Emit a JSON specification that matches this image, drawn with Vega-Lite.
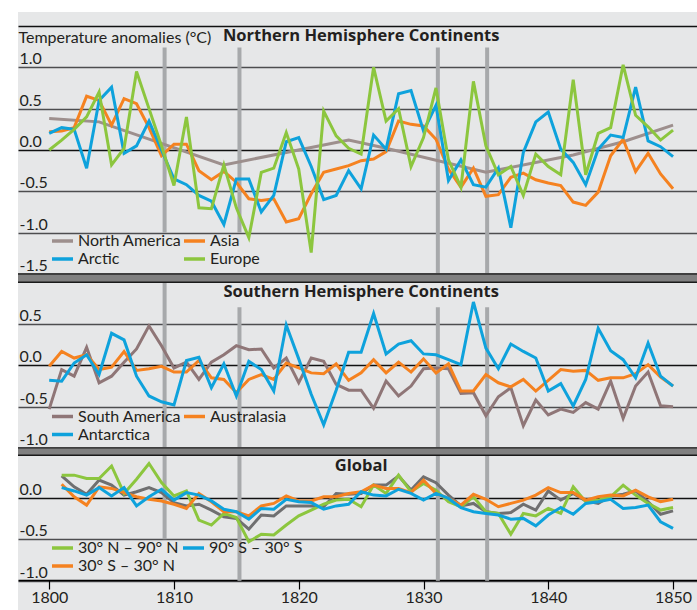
{
"$schema":"https://vega.github.io/schema/vega-lite/v6.json",
"autosize":{"type":"pad"},
"padding":{"left":17,"top":9,"right":0,"bottom":0},
"background":"#ffffff",
"spacing":0,
"bounds":"flush",
"config":{
 "view":{"stroke":null,"fill":"#e6e7e8"},
 "font":"Lato",
 "axis":{"labelFont":"Lato","titleFont":"Lato","labelColor":"#231f20","titleColor":"#231f20"},
 "legend":{"labelFont":"Lato"},
 "text":{"font":"Open Sans"}
},
"resolve":{"scale":{"color":"independent","x":"independent","y":"independent"},"legend":{"color":"independent"}},
"datasets":{
"eruptions":[{"year":1809.25},{"year":1815.25},{"year":1831.15},{"year":1835.1}],
"nh":[
{"series":"North America","year":1800,"anomaly":0.38},
{"series":"North America","year":1804,"anomaly":0.34},
{"series":"North America","year":1814,"anomaly":-0.18},
{"series":"North America","year":1824,"anomaly":0.12},
{"series":"North America","year":1827,"anomaly":0.02},
{"series":"North America","year":1835,"anomaly":-0.27},
{"series":"North America","year":1842,"anomaly":-0.06},
{"series":"North America","year":1846,"anomaly":0.1},
{"series":"North America","year":1850,"anomaly":0.3},
{"series":"Asia","year":1800,"anomaly":0.22},
{"series":"Asia","year":1801,"anomaly":0.23},
{"series":"Asia","year":1802,"anomaly":0.27},
{"series":"Asia","year":1803,"anomaly":0.65},
{"series":"Asia","year":1804,"anomaly":0.6},
{"series":"Asia","year":1805,"anomaly":0.3},
{"series":"Asia","year":1806,"anomaly":0.62},
{"series":"Asia","year":1807,"anomaly":0.56},
{"series":"Asia","year":1808,"anomaly":0.27},
{"series":"Asia","year":1809,"anomaly":-0.07},
{"series":"Asia","year":1810,"anomaly":0.07},
{"series":"Asia","year":1811,"anomaly":0.07},
{"series":"Asia","year":1812,"anomaly":-0.25},
{"series":"Asia","year":1813,"anomaly":-0.36},
{"series":"Asia","year":1814,"anomaly":-0.26},
{"series":"Asia","year":1815,"anomaly":-0.39},
{"series":"Asia","year":1816,"anomaly":-0.59},
{"series":"Asia","year":1817,"anomaly":-0.61},
{"series":"Asia","year":1818,"anomaly":-0.59},
{"series":"Asia","year":1819,"anomaly":-0.87},
{"series":"Asia","year":1820,"anomaly":-0.83},
{"series":"Asia","year":1821,"anomaly":-0.53},
{"series":"Asia","year":1822,"anomaly":-0.27},
{"series":"Asia","year":1823,"anomaly":-0.23},
{"series":"Asia","year":1824,"anomaly":-0.19},
{"series":"Asia","year":1825,"anomaly":-0.13},
{"series":"Asia","year":1826,"anomaly":-0.11},
{"series":"Asia","year":1827,"anomaly":-0.02},
{"series":"Asia","year":1828,"anomaly":0.35},
{"series":"Asia","year":1829,"anomaly":0.31},
{"series":"Asia","year":1830,"anomaly":0.29},
{"series":"Asia","year":1831,"anomaly":0.13},
{"series":"Asia","year":1832,"anomaly":-0.23},
{"series":"Asia","year":1833,"anomaly":-0.45},
{"series":"Asia","year":1834,"anomaly":-0.22},
{"series":"Asia","year":1835,"anomaly":-0.56},
{"series":"Asia","year":1836,"anomaly":-0.54},
{"series":"Asia","year":1837,"anomaly":-0.33},
{"series":"Asia","year":1838,"anomaly":-0.28},
{"series":"Asia","year":1839,"anomaly":-0.36},
{"series":"Asia","year":1840,"anomaly":-0.4},
{"series":"Asia","year":1841,"anomaly":-0.43},
{"series":"Asia","year":1842,"anomaly":-0.63},
{"series":"Asia","year":1843,"anomaly":-0.67},
{"series":"Asia","year":1844,"anomaly":-0.51},
{"series":"Asia","year":1845,"anomaly":-0.07},
{"series":"Asia","year":1846,"anomaly":0.13},
{"series":"Asia","year":1847,"anomaly":-0.26},
{"series":"Asia","year":1848,"anomaly":-0.04},
{"series":"Asia","year":1849,"anomaly":-0.29},
{"series":"Asia","year":1850,"anomaly":-0.47},
{"series":"Arctic","year":1800,"anomaly":0.2},
{"series":"Arctic","year":1801,"anomaly":0.27},
{"series":"Arctic","year":1802,"anomaly":0.25},
{"series":"Arctic","year":1803,"anomaly":-0.22},
{"series":"Arctic","year":1804,"anomaly":0.6},
{"series":"Arctic","year":1805,"anomaly":0.76},
{"series":"Arctic","year":1806,"anomaly":-0.04},
{"series":"Arctic","year":1807,"anomaly":0.05},
{"series":"Arctic","year":1808,"anomaly":0.35},
{"series":"Arctic","year":1809,"anomaly":0.0},
{"series":"Arctic","year":1810,"anomaly":-0.35},
{"series":"Arctic","year":1811,"anomaly":-0.42},
{"series":"Arctic","year":1812,"anomaly":-0.55},
{"series":"Arctic","year":1813,"anomaly":-0.62},
{"series":"Arctic","year":1814,"anomaly":-0.9},
{"series":"Arctic","year":1815,"anomaly":-0.35},
{"series":"Arctic","year":1816,"anomaly":-0.35},
{"series":"Arctic","year":1817,"anomaly":-0.75},
{"series":"Arctic","year":1818,"anomaly":-0.55},
{"series":"Arctic","year":1819,"anomaly":0.1},
{"series":"Arctic","year":1820,"anomaly":0.15},
{"series":"Arctic","year":1821,"anomaly":-0.2},
{"series":"Arctic","year":1822,"anomaly":-0.6},
{"series":"Arctic","year":1823,"anomaly":-0.55},
{"series":"Arctic","year":1824,"anomaly":-0.25},
{"series":"Arctic","year":1825,"anomaly":-0.47},
{"series":"Arctic","year":1826,"anomaly":0.18},
{"series":"Arctic","year":1827,"anomaly":0.01},
{"series":"Arctic","year":1828,"anomaly":0.68},
{"series":"Arctic","year":1829,"anomaly":0.72},
{"series":"Arctic","year":1830,"anomaly":0.23},
{"series":"Arctic","year":1831,"anomaly":0.54},
{"series":"Arctic","year":1832,"anomaly":-0.37},
{"series":"Arctic","year":1833,"anomaly":-0.12},
{"series":"Arctic","year":1834,"anomaly":-0.42},
{"series":"Arctic","year":1835,"anomaly":-0.45},
{"series":"Arctic","year":1836,"anomaly":-0.22},
{"series":"Arctic","year":1837,"anomaly":-0.94},
{"series":"Arctic","year":1838,"anomaly":-0.03},
{"series":"Arctic","year":1839,"anomaly":0.34},
{"series":"Arctic","year":1840,"anomaly":0.46},
{"series":"Arctic","year":1841,"anomaly":0.01},
{"series":"Arctic","year":1842,"anomaly":-0.15},
{"series":"Arctic","year":1843,"anomaly":-0.42},
{"series":"Arctic","year":1844,"anomaly":0.01},
{"series":"Arctic","year":1845,"anomaly":0.18},
{"series":"Arctic","year":1846,"anomaly":0.15},
{"series":"Arctic","year":1847,"anomaly":0.76},
{"series":"Arctic","year":1848,"anomaly":0.11},
{"series":"Arctic","year":1849,"anomaly":0.04},
{"series":"Arctic","year":1850,"anomaly":-0.08},
{"series":"Europe","year":1800,"anomaly":0.0},
{"series":"Europe","year":1801,"anomaly":0.12},
{"series":"Europe","year":1802,"anomaly":0.25},
{"series":"Europe","year":1803,"anomaly":0.4},
{"series":"Europe","year":1804,"anomaly":0.7},
{"series":"Europe","year":1805,"anomaly":-0.18},
{"series":"Europe","year":1806,"anomaly":0.02},
{"series":"Europe","year":1807,"anomaly":0.95},
{"series":"Europe","year":1808,"anomaly":0.5},
{"series":"Europe","year":1809,"anomaly":0.05},
{"series":"Europe","year":1810,"anomaly":-0.43},
{"series":"Europe","year":1811,"anomaly":0.4},
{"series":"Europe","year":1812,"anomaly":-0.7},
{"series":"Europe","year":1813,"anomaly":-0.71},
{"series":"Europe","year":1814,"anomaly":-0.18},
{"series":"Europe","year":1815,"anomaly":-0.7},
{"series":"Europe","year":1816,"anomaly":-1.06},
{"series":"Europe","year":1817,"anomaly":-0.27},
{"series":"Europe","year":1818,"anomaly":-0.22},
{"series":"Europe","year":1819,"anomaly":0.21},
{"series":"Europe","year":1820,"anomaly":-0.23},
{"series":"Europe","year":1821,"anomaly":-1.24},
{"series":"Europe","year":1822,"anomaly":0.47},
{"series":"Europe","year":1823,"anomaly":0.17},
{"series":"Europe","year":1824,"anomaly":0.02},
{"series":"Europe","year":1825,"anomaly":-0.05},
{"series":"Europe","year":1826,"anomaly":1.0},
{"series":"Europe","year":1827,"anomaly":0.35},
{"series":"Europe","year":1828,"anomaly":0.5},
{"series":"Europe","year":1829,"anomaly":-0.2},
{"series":"Europe","year":1830,"anomaly":0.15},
{"series":"Europe","year":1831,"anomaly":0.75},
{"series":"Europe","year":1832,"anomaly":-0.12},
{"series":"Europe","year":1833,"anomaly":-0.45},
{"series":"Europe","year":1834,"anomaly":0.83},
{"series":"Europe","year":1835,"anomaly":0.05},
{"series":"Europe","year":1836,"anomaly":-0.3},
{"series":"Europe","year":1837,"anomaly":-0.2},
{"series":"Europe","year":1838,"anomaly":-0.55},
{"series":"Europe","year":1839,"anomaly":-0.05},
{"series":"Europe","year":1840,"anomaly":-0.2},
{"series":"Europe","year":1841,"anomaly":-0.3},
{"series":"Europe","year":1842,"anomaly":0.85},
{"series":"Europe","year":1843,"anomaly":-0.3},
{"series":"Europe","year":1844,"anomaly":0.2},
{"series":"Europe","year":1845,"anomaly":0.27},
{"series":"Europe","year":1846,"anomaly":1.03},
{"series":"Europe","year":1847,"anomaly":0.42},
{"series":"Europe","year":1848,"anomaly":0.28},
{"series":"Europe","year":1849,"anomaly":0.12},
{"series":"Europe","year":1850,"anomaly":0.24}
],
"sh":[
{"series":"South America","year":1800,"anomaly":-0.53},
{"series":"South America","year":1801,"anomaly":-0.05},
{"series":"South America","year":1802,"anomaly":-0.13},
{"series":"South America","year":1803,"anomaly":0.22},
{"series":"South America","year":1804,"anomaly":-0.21},
{"series":"South America","year":1805,"anomaly":-0.13},
{"series":"South America","year":1806,"anomaly":0.04},
{"series":"South America","year":1807,"anomaly":0.2},
{"series":"South America","year":1808,"anomaly":0.48},
{"series":"South America","year":1809,"anomaly":0.24},
{"series":"South America","year":1810,"anomaly":-0.03},
{"series":"South America","year":1811,"anomaly":0.04},
{"series":"South America","year":1812,"anomaly":-0.17},
{"series":"South America","year":1813,"anomaly":0.04},
{"series":"South America","year":1814,"anomaly":0.13},
{"series":"South America","year":1815,"anomaly":0.24},
{"series":"South America","year":1816,"anomaly":0.19},
{"series":"South America","year":1817,"anomaly":0.2},
{"series":"South America","year":1818,"anomaly":-0.03},
{"series":"South America","year":1819,"anomaly":0.09},
{"series":"South America","year":1820,"anomaly":-0.21},
{"series":"South America","year":1821,"anomaly":0.09},
{"series":"South America","year":1822,"anomaly":0.05},
{"series":"South America","year":1823,"anomaly":-0.23},
{"series":"South America","year":1824,"anomaly":-0.3},
{"series":"South America","year":1825,"anomaly":-0.3},
{"series":"South America","year":1826,"anomaly":-0.52},
{"series":"South America","year":1827,"anomaly":-0.19},
{"series":"South America","year":1828,"anomaly":-0.37},
{"series":"South America","year":1829,"anomaly":-0.25},
{"series":"South America","year":1830,"anomaly":-0.04},
{"series":"South America","year":1831,"anomaly":-0.03},
{"series":"South America","year":1832,"anomaly":-0.04},
{"series":"South America","year":1833,"anomaly":-0.34},
{"series":"South America","year":1834,"anomaly":-0.33},
{"series":"South America","year":1835,"anomaly":-0.61},
{"series":"South America","year":1836,"anomaly":-0.38},
{"series":"South America","year":1837,"anomaly":-0.27},
{"series":"South America","year":1838,"anomaly":-0.73},
{"series":"South America","year":1839,"anomaly":-0.42},
{"series":"South America","year":1840,"anomaly":-0.6},
{"series":"South America","year":1841,"anomaly":-0.53},
{"series":"South America","year":1842,"anomaly":-0.57},
{"series":"South America","year":1843,"anomaly":-0.45},
{"series":"South America","year":1844,"anomaly":-0.53},
{"series":"South America","year":1845,"anomaly":-0.19},
{"series":"South America","year":1846,"anomaly":-0.64},
{"series":"South America","year":1847,"anomaly":-0.25},
{"series":"South America","year":1848,"anomaly":-0.08},
{"series":"South America","year":1849,"anomaly":-0.49},
{"series":"South America","year":1850,"anomaly":-0.5},
{"series":"Australasia","year":1800,"anomaly":-0.01},
{"series":"Australasia","year":1801,"anomaly":0.17},
{"series":"Australasia","year":1802,"anomaly":0.09},
{"series":"Australasia","year":1803,"anomaly":0.13},
{"series":"Australasia","year":1804,"anomaly":-0.05},
{"series":"Australasia","year":1805,"anomaly":-0.02},
{"series":"Australasia","year":1806,"anomaly":0.17},
{"series":"Australasia","year":1807,"anomaly":-0.06},
{"series":"Australasia","year":1808,"anomaly":-0.04},
{"series":"Australasia","year":1809,"anomaly":-0.01},
{"series":"Australasia","year":1810,"anomaly":-0.08},
{"series":"Australasia","year":1811,"anomaly":-0.08},
{"series":"Australasia","year":1812,"anomaly":0.06},
{"series":"Australasia","year":1813,"anomaly":-0.15},
{"series":"Australasia","year":1814,"anomaly":-0.17},
{"series":"Australasia","year":1815,"anomaly":-0.33},
{"series":"Australasia","year":1816,"anomaly":-0.17},
{"series":"Australasia","year":1817,"anomaly":-0.11},
{"series":"Australasia","year":1818,"anomaly":-0.17},
{"series":"Australasia","year":1819,"anomaly":0.03},
{"series":"Australasia","year":1820,"anomaly":-0.03},
{"series":"Australasia","year":1821,"anomaly":-0.09},
{"series":"Australasia","year":1822,"anomaly":-0.1},
{"series":"Australasia","year":1823,"anomaly":0.02},
{"series":"Australasia","year":1824,"anomaly":-0.18},
{"series":"Australasia","year":1825,"anomaly":-0.09},
{"series":"Australasia","year":1826,"anomaly":0.07},
{"series":"Australasia","year":1827,"anomaly":-0.09},
{"series":"Australasia","year":1828,"anomaly":0.04},
{"series":"Australasia","year":1829,"anomaly":-0.08},
{"series":"Australasia","year":1830,"anomaly":0.08},
{"series":"Australasia","year":1831,"anomaly":-0.09},
{"series":"Australasia","year":1832,"anomaly":0.02},
{"series":"Australasia","year":1833,"anomaly":-0.31},
{"series":"Australasia","year":1834,"anomaly":-0.31},
{"series":"Australasia","year":1835,"anomaly":-0.11},
{"series":"Australasia","year":1836,"anomaly":-0.21},
{"series":"Australasia","year":1837,"anomaly":-0.26},
{"series":"Australasia","year":1838,"anomaly":-0.17},
{"series":"Australasia","year":1839,"anomaly":-0.31},
{"series":"Australasia","year":1840,"anomaly":-0.18},
{"series":"Australasia","year":1841,"anomaly":-0.05},
{"series":"Australasia","year":1842,"anomaly":-0.07},
{"series":"Australasia","year":1843,"anomaly":-0.06},
{"series":"Australasia","year":1844,"anomaly":-0.18},
{"series":"Australasia","year":1845,"anomaly":-0.15},
{"series":"Australasia","year":1846,"anomaly":-0.15},
{"series":"Australasia","year":1847,"anomaly":-0.1},
{"series":"Australasia","year":1848,"anomaly":0.01},
{"series":"Australasia","year":1849,"anomaly":-0.14},
{"series":"Australasia","year":1850,"anomaly":-0.25},
{"series":"Antarctica","year":1800,"anomaly":-0.18},
{"series":"Antarctica","year":1801,"anomaly":-0.19},
{"series":"Antarctica","year":1802,"anomaly":0.03},
{"series":"Antarctica","year":1803,"anomaly":0.13},
{"series":"Antarctica","year":1804,"anomaly":-0.11},
{"series":"Antarctica","year":1805,"anomaly":0.39},
{"series":"Antarctica","year":1806,"anomaly":0.31},
{"series":"Antarctica","year":1807,"anomaly":-0.13},
{"series":"Antarctica","year":1808,"anomaly":-0.37},
{"series":"Antarctica","year":1809,"anomaly":-0.44},
{"series":"Antarctica","year":1810,"anomaly":-0.48},
{"series":"Antarctica","year":1811,"anomaly":0.06},
{"series":"Antarctica","year":1812,"anomaly":0.1},
{"series":"Antarctica","year":1813,"anomaly":-0.27},
{"series":"Antarctica","year":1814,"anomaly":0.02},
{"series":"Antarctica","year":1815,"anomaly":-0.37},
{"series":"Antarctica","year":1816,"anomaly":0.05},
{"series":"Antarctica","year":1817,"anomaly":-0.05},
{"series":"Antarctica","year":1818,"anomaly":-0.31},
{"series":"Antarctica","year":1819,"anomaly":0.49},
{"series":"Antarctica","year":1820,"anomaly":0.08},
{"series":"Antarctica","year":1821,"anomaly":-0.35},
{"series":"Antarctica","year":1822,"anomaly":-0.72},
{"series":"Antarctica","year":1823,"anomaly":-0.3},
{"series":"Antarctica","year":1824,"anomaly":0.16},
{"series":"Antarctica","year":1825,"anomaly":0.16},
{"series":"Antarctica","year":1826,"anomaly":0.63},
{"series":"Antarctica","year":1827,"anomaly":0.14},
{"series":"Antarctica","year":1828,"anomaly":0.26},
{"series":"Antarctica","year":1829,"anomaly":0.3},
{"series":"Antarctica","year":1830,"anomaly":0.14},
{"series":"Antarctica","year":1831,"anomaly":0.13},
{"series":"Antarctica","year":1832,"anomaly":0.07},
{"series":"Antarctica","year":1833,"anomaly":0.01},
{"series":"Antarctica","year":1834,"anomaly":0.77},
{"series":"Antarctica","year":1835,"anomaly":0.21},
{"series":"Antarctica","year":1836,"anomaly":-0.04},
{"series":"Antarctica","year":1837,"anomaly":0.26},
{"series":"Antarctica","year":1838,"anomaly":0.17},
{"series":"Antarctica","year":1839,"anomaly":0.09},
{"series":"Antarctica","year":1840,"anomaly":-0.31},
{"series":"Antarctica","year":1841,"anomaly":-0.22},
{"series":"Antarctica","year":1842,"anomaly":-0.49},
{"series":"Antarctica","year":1843,"anomaly":-0.17},
{"series":"Antarctica","year":1844,"anomaly":0.45},
{"series":"Antarctica","year":1845,"anomaly":0.18},
{"series":"Antarctica","year":1846,"anomaly":0.07},
{"series":"Antarctica","year":1847,"anomaly":-0.15},
{"series":"Antarctica","year":1848,"anomaly":0.27},
{"series":"Antarctica","year":1849,"anomaly":-0.13},
{"series":"Antarctica","year":1850,"anomaly":-0.25}
],
"gl":[
{"series":"Global","year":1801,"anomaly":0.26},
{"series":"Global","year":1802,"anomaly":0.13},
{"series":"Global","year":1803,"anomaly":0.04},
{"series":"Global","year":1804,"anomaly":0.21},
{"series":"Global","year":1805,"anomaly":0.15},
{"series":"Global","year":1806,"anomaly":0.03},
{"series":"Global","year":1807,"anomaly":0.07},
{"series":"Global","year":1808,"anomaly":0.12},
{"series":"Global","year":1809,"anomaly":0.06},
{"series":"Global","year":1810,"anomaly":-0.06},
{"series":"Global","year":1811,"anomaly":-0.1},
{"series":"Global","year":1812,"anomaly":-0.08},
{"series":"Global","year":1813,"anomaly":-0.15},
{"series":"Global","year":1814,"anomaly":-0.23},
{"series":"Global","year":1815,"anomaly":-0.25},
{"series":"Global","year":1816,"anomaly":-0.38},
{"series":"Global","year":1817,"anomaly":-0.21},
{"series":"Global","year":1818,"anomaly":-0.22},
{"series":"Global","year":1819,"anomaly":-0.1},
{"series":"Global","year":1820,"anomaly":-0.1},
{"series":"Global","year":1821,"anomaly":-0.1},
{"series":"Global","year":1822,"anomaly":-0.11},
{"series":"Global","year":1823,"anomaly":0.05},
{"series":"Global","year":1824,"anomaly":0.04},
{"series":"Global","year":1825,"anomaly":0.05},
{"series":"Global","year":1826,"anomaly":0.15},
{"series":"Global","year":1827,"anomaly":0.15},
{"series":"Global","year":1828,"anomaly":0.26},
{"series":"Global","year":1829,"anomaly":0.09},
{"series":"Global","year":1830,"anomaly":0.25},
{"series":"Global","year":1831,"anomaly":0.18},
{"series":"Global","year":1832,"anomaly":0.03},
{"series":"Global","year":1833,"anomaly":-0.1},
{"series":"Global","year":1834,"anomaly":-0.07},
{"series":"Global","year":1835,"anomaly":-0.17},
{"series":"Global","year":1836,"anomaly":-0.19},
{"series":"Global","year":1837,"anomaly":-0.18},
{"series":"Global","year":1838,"anomaly":-0.08},
{"series":"Global","year":1839,"anomaly":-0.15},
{"series":"Global","year":1840,"anomaly":0.08},
{"series":"Global","year":1841,"anomaly":-0.03},
{"series":"Global","year":1842,"anomaly":0.05},
{"series":"Global","year":1843,"anomaly":-0.04},
{"series":"Global","year":1844,"anomaly":-0.07},
{"series":"Global","year":1845,"anomaly":0.02},
{"series":"Global","year":1846,"anomaly":0.04},
{"series":"Global","year":1847,"anomaly":0.08},
{"series":"Global","year":1848,"anomaly":-0.05},
{"series":"Global","year":1849,"anomaly":-0.2},
{"series":"Global","year":1850,"anomaly":-0.16},
{"series":"30° N – 90° N","year":1801,"anomaly":0.27},
{"series":"30° N – 90° N","year":1802,"anomaly":0.27},
{"series":"30° N – 90° N","year":1803,"anomaly":0.23},
{"series":"30° N – 90° N","year":1804,"anomaly":0.23},
{"series":"30° N – 90° N","year":1805,"anomaly":0.38},
{"series":"30° N – 90° N","year":1806,"anomaly":0.05},
{"series":"30° N – 90° N","year":1807,"anomaly":0.22},
{"series":"30° N – 90° N","year":1808,"anomaly":0.41},
{"series":"30° N – 90° N","year":1809,"anomaly":0.18},
{"series":"30° N – 90° N","year":1810,"anomaly":0.02},
{"series":"30° N – 90° N","year":1811,"anomaly":0.08},
{"series":"30° N – 90° N","year":1812,"anomaly":-0.27},
{"series":"30° N – 90° N","year":1813,"anomaly":-0.33},
{"series":"30° N – 90° N","year":1814,"anomaly":-0.19},
{"series":"30° N – 90° N","year":1815,"anomaly":-0.24},
{"series":"30° N – 90° N","year":1816,"anomaly":-0.53},
{"series":"30° N – 90° N","year":1817,"anomaly":-0.44},
{"series":"30° N – 90° N","year":1818,"anomaly":-0.45},
{"series":"30° N – 90° N","year":1819,"anomaly":-0.33},
{"series":"30° N – 90° N","year":1820,"anomaly":-0.22},
{"series":"30° N – 90° N","year":1821,"anomaly":-0.15},
{"series":"30° N – 90° N","year":1822,"anomaly":-0.08},
{"series":"30° N – 90° N","year":1823,"anomaly":-0.03},
{"series":"30° N – 90° N","year":1824,"anomaly":-0.02},
{"series":"30° N – 90° N","year":1825,"anomaly":-0.11},
{"series":"30° N – 90° N","year":1826,"anomaly":0.15},
{"series":"30° N – 90° N","year":1827,"anomaly":0.05},
{"series":"30° N – 90° N","year":1828,"anomaly":0.27},
{"series":"30° N – 90° N","year":1829,"anomaly":0.07},
{"series":"30° N – 90° N","year":1830,"anomaly":0.17},
{"series":"30° N – 90° N","year":1831,"anomaly":0.09},
{"series":"30° N – 90° N","year":1832,"anomaly":-0.05},
{"series":"30° N – 90° N","year":1833,"anomaly":-0.11},
{"series":"30° N – 90° N","year":1834,"anomaly":0.01},
{"series":"30° N – 90° N","year":1835,"anomaly":-0.17},
{"series":"30° N – 90° N","year":1836,"anomaly":-0.19},
{"series":"30° N – 90° N","year":1837,"anomaly":-0.44},
{"series":"30° N – 90° N","year":1838,"anomaly":-0.19},
{"series":"30° N – 90° N","year":1839,"anomaly":-0.22},
{"series":"30° N – 90° N","year":1840,"anomaly":-0.13},
{"series":"30° N – 90° N","year":1841,"anomaly":-0.19},
{"series":"30° N – 90° N","year":1842,"anomaly":0.13},
{"series":"30° N – 90° N","year":1843,"anomaly":-0.05},
{"series":"30° N – 90° N","year":1844,"anomaly":-0.03},
{"series":"30° N – 90° N","year":1845,"anomaly":0.01},
{"series":"30° N – 90° N","year":1846,"anomaly":0.15},
{"series":"30° N – 90° N","year":1847,"anomaly":0.03},
{"series":"30° N – 90° N","year":1848,"anomaly":-0.07},
{"series":"30° N – 90° N","year":1849,"anomaly":-0.15},
{"series":"30° N – 90° N","year":1850,"anomaly":-0.12},
{"series":"30° S – 30° N","year":1801,"anomaly":0.16},
{"series":"30° S – 30° N","year":1802,"anomaly":0.01},
{"series":"30° S – 30° N","year":1803,"anomaly":-0.09},
{"series":"30° S – 30° N","year":1804,"anomaly":0.13},
{"series":"30° S – 30° N","year":1805,"anomaly":0.11},
{"series":"30° S – 30° N","year":1806,"anomaly":0.06},
{"series":"30° S – 30° N","year":1807,"anomaly":0.01},
{"series":"30° S – 30° N","year":1808,"anomaly":-0.02},
{"series":"30° S – 30° N","year":1809,"anomaly":-0.04},
{"series":"30° S – 30° N","year":1810,"anomaly":-0.08},
{"series":"30° S – 30° N","year":1811,"anomaly":-0.13},
{"series":"30° S – 30° N","year":1812,"anomaly":0.05},
{"series":"30° S – 30° N","year":1813,"anomaly":-0.05},
{"series":"30° S – 30° N","year":1814,"anomaly":-0.17},
{"series":"30° S – 30° N","year":1815,"anomaly":-0.17},
{"series":"30° S – 30° N","year":1816,"anomaly":-0.22},
{"series":"30° S – 30° N","year":1817,"anomaly":-0.1},
{"series":"30° S – 30° N","year":1818,"anomaly":-0.07},
{"series":"30° S – 30° N","year":1819,"anomaly":0.02},
{"series":"30° S – 30° N","year":1820,"anomaly":-0.04},
{"series":"30° S – 30° N","year":1821,"anomaly":-0.04},
{"series":"30° S – 30° N","year":1822,"anomaly":0.01},
{"series":"30° S – 30° N","year":1823,"anomaly":0.01},
{"series":"30° S – 30° N","year":1824,"anomaly":0.05},
{"series":"30° S – 30° N","year":1825,"anomaly":0.07},
{"series":"30° S – 30° N","year":1826,"anomaly":0.15},
{"series":"30° S – 30° N","year":1827,"anomaly":0.11},
{"series":"30° S – 30° N","year":1828,"anomaly":0.11},
{"series":"30° S – 30° N","year":1829,"anomaly":0.06},
{"series":"30° S – 30° N","year":1830,"anomaly":0.21},
{"series":"30° S – 30° N","year":1831,"anomaly":0.05},
{"series":"30° S – 30° N","year":1832,"anomaly":-0.01},
{"series":"30° S – 30° N","year":1833,"anomaly":-0.09},
{"series":"30° S – 30° N","year":1834,"anomaly":0.04},
{"series":"30° S – 30° N","year":1835,"anomaly":-0.02},
{"series":"30° S – 30° N","year":1836,"anomaly":-0.11},
{"series":"30° S – 30° N","year":1837,"anomaly":-0.07},
{"series":"30° S – 30° N","year":1838,"anomaly":-0.03},
{"series":"30° S – 30° N","year":1839,"anomaly":0.03},
{"series":"30° S – 30° N","year":1840,"anomaly":0.12},
{"series":"30° S – 30° N","year":1841,"anomaly":0.06},
{"series":"30° S – 30° N","year":1842,"anomaly":0.06},
{"series":"30° S – 30° N","year":1843,"anomaly":-0.03},
{"series":"30° S – 30° N","year":1844,"anomaly":0.01},
{"series":"30° S – 30° N","year":1845,"anomaly":0.03},
{"series":"30° S – 30° N","year":1846,"anomaly":0.02},
{"series":"30° S – 30° N","year":1847,"anomaly":0.09},
{"series":"30° S – 30° N","year":1848,"anomaly":0.01},
{"series":"30° S – 30° N","year":1849,"anomaly":-0.05},
{"series":"30° S – 30° N","year":1850,"anomaly":-0.02},
{"series":"90° S – 30° S","year":1801,"anomaly":0.12},
{"series":"90° S – 30° S","year":1802,"anomaly":0.08},
{"series":"90° S – 30° S","year":1803,"anomaly":0.03},
{"series":"90° S – 30° S","year":1804,"anomaly":0.12},
{"series":"90° S – 30° S","year":1805,"anomaly":0.02},
{"series":"90° S – 30° S","year":1806,"anomaly":0.12},
{"series":"90° S – 30° S","year":1807,"anomaly":-0.1},
{"series":"90° S – 30° S","year":1808,"anomaly":0.01},
{"series":"90° S – 30° S","year":1809,"anomaly":0.1},
{"series":"90° S – 30° S","year":1810,"anomaly":-0.03},
{"series":"90° S – 30° S","year":1811,"anomaly":0.06},
{"series":"90° S – 30° S","year":1812,"anomaly":0.03},
{"series":"90° S – 30° S","year":1813,"anomaly":-0.04},
{"series":"90° S – 30° S","year":1814,"anomaly":-0.14},
{"series":"90° S – 30° S","year":1815,"anomaly":-0.17},
{"series":"90° S – 30° S","year":1816,"anomaly":-0.26},
{"series":"90° S – 30° S","year":1817,"anomaly":-0.13},
{"series":"90° S – 30° S","year":1818,"anomaly":-0.14},
{"series":"90° S – 30° S","year":1819,"anomaly":-0.02},
{"series":"90° S – 30° S","year":1820,"anomaly":-0.05},
{"series":"90° S – 30° S","year":1821,"anomaly":-0.06},
{"series":"90° S – 30° S","year":1822,"anomaly":-0.14},
{"series":"90° S – 30° S","year":1823,"anomaly":-0.1},
{"series":"90° S – 30° S","year":1824,"anomaly":-0.08},
{"series":"90° S – 30° S","year":1825,"anomaly":0.07},
{"series":"90° S – 30° S","year":1826,"anomaly":0.03},
{"series":"90° S – 30° S","year":1827,"anomaly":0.02},
{"series":"90° S – 30° S","year":1828,"anomaly":0.1},
{"series":"90° S – 30° S","year":1829,"anomaly":0.05},
{"series":"90° S – 30° S","year":1830,"anomaly":-0.03},
{"series":"90° S – 30° S","year":1831,"anomaly":0.05},
{"series":"90° S – 30° S","year":1832,"anomaly":-0.01},
{"series":"90° S – 30° S","year":1833,"anomaly":-0.12},
{"series":"90° S – 30° S","year":1834,"anomaly":-0.17},
{"series":"90° S – 30° S","year":1835,"anomaly":-0.19},
{"series":"90° S – 30° S","year":1836,"anomaly":-0.21},
{"series":"90° S – 30° S","year":1837,"anomaly":-0.26},
{"series":"90° S – 30° S","year":1838,"anomaly":-0.25},
{"series":"90° S – 30° S","year":1839,"anomaly":-0.34},
{"series":"90° S – 30° S","year":1840,"anomaly":-0.21},
{"series":"90° S – 30° S","year":1841,"anomaly":-0.12},
{"series":"90° S – 30° S","year":1842,"anomaly":-0.2},
{"series":"90° S – 30° S","year":1843,"anomaly":-0.07},
{"series":"90° S – 30° S","year":1844,"anomaly":-0.05},
{"series":"90° S – 30° S","year":1845,"anomaly":-0.02},
{"series":"90° S – 30° S","year":1846,"anomaly":-0.13},
{"series":"90° S – 30° S","year":1847,"anomaly":-0.12},
{"series":"90° S – 30° S","year":1848,"anomaly":-0.09},
{"series":"90° S – 30° S","year":1849,"anomaly":-0.29},
{"series":"90° S – 30° S","year":1850,"anomaly":-0.37}
]
},
"vconcat":[
{
 "width":680,"height":271,
 "layer":[
  {"data":{"name":"eruptions"},"transform":[{"filter":"datum.year < 1820"}],
   "mark":{"type":"rule","color":"#a7a9ab","strokeWidth":4},
   "encoding":{"x":{"field":"year","type":"quantitative","axis":null},"y":{"datum":1.24,"type":"quantitative"},"y2":{"datum":-1.0}}},
  {"data":{"name":"eruptions"},"transform":[{"filter":"datum.year > 1820"}],
   "mark":{"type":"rule","color":"#a7a9ab","strokeWidth":4},
   "encoding":{"x":{"field":"year","type":"quantitative","axis":null},"y":{"datum":1.24,"type":"quantitative"},"y2":{"datum":-1.5}}},
  {"data":{"values":[{"part":"divider"}]},
   "mark":{"type":"rect","fill":"#808080"},
   "encoding":{"x":{"datum":1797.5,"type":"quantitative","axis":null},"x2":{"datum":1852},"y":{"datum":-1.5,"type":"quantitative"},"y2":{"datum":-1.6}}},
  {"data":{"values":[{"part":"divider top"}]},
   "mark":{"type":"rule","color":"#3f3f3f","strokeWidth":1.8},
   "encoding":{"y":{"datum":-1.5,"type":"quantitative"}}},
  {"data":{"values":[{"part":"divider bottom"}]},
   "mark":{"type":"rule","color":"#1a1a1a","strokeWidth":1.5},
   "encoding":{"y":{"datum":-1.6,"type":"quantitative"}}},
  {"data":{"name":"nh"},
   "mark":{"type":"line","strokeWidth":3},
   "encoding":{
    "x":{"field":"year","type":"quantitative","scale":{"domain":[1797.5,1852],"nice":false,"zero":false},"axis":null},
    "y":{"field":"anomaly","type":"quantitative","scale":{"domain":[-1.609,1.669],"nice":false,"zero":false},
     "axis":{"values":[-1.5,-1,-0.5,0,0.5,1,1.5],"grid":true,"gridColor":{"condition":{"test":"abs(datum.value) < 0.001 || datum.value > 1.4","value":"#111111"},"value":"#4d4d4f"},"gridWidth":1.3,"domain":false,"ticks":false,"tickSize":0,"labelAlign":"left","labelBaseline":"alphabetic","labelPadding":-1,"labelOffset":-3.5,"labelFontSize":16,"labelOverlap":false,"labelExpr":"datum.value > 1.4 ? '' : replace(format(datum.value, '.1f'), '−', '-')","title":"Temperature anomalies (°C)","titleAngle":0,"titleAlign":"left","titleBaseline":"alphabetic","titleX":0,"titleY":30,"titleFontSize":16,"titleFontWeight":"normal"}},
    "color":{"field":"series","type":"nominal","scale":{"domain":["North America","Asia","Arctic","Europe"],"range":["#9d8f8d","#f58220","#0ea2dc","#8cc63e"]},
     "legend":{"orient":"none","legendX":32,"legendY":220,"columns":2,"direction":"horizontal","title":null,"symbolType":"stroke","symbolSize":441,"symbolStrokeWidth":3.5,"labelFontSize":16,"labelOffset":3,"labelColor":"#231f20","clipHeight":18,"rowPadding":0,"columnPadding":-7,"padding":0}}
   }},
  {"data":{"values":[{"label":"Northern Hemisphere Continents"}]},
   "mark":{"type":"text","font":"Open Sans","fontWeight":"bold","fontSize":16.5,"align":"center","baseline":"alphabetic","color":"#231f20"},
   "encoding":{"x":{"datum":1825,"type":"quantitative","axis":null},"y":{"datum":1.32,"type":"quantitative"},"text":{"field":"label"}}}
 ]
},
{
 "width":680,"height":173,
 "layer":[
  {"data":{"name":"eruptions"},"transform":[{"filter":"datum.year < 1812"}],
   "mark":{"type":"rule","color":"#a7a9ab","strokeWidth":4},
   "encoding":{"x":{"field":"year","type":"quantitative","axis":null},"y":{"datum":1.0,"type":"quantitative"},"y2":{"datum":-1.0}}},
  {"data":{"name":"eruptions"},"transform":[{"filter":"datum.year > 1812"}],
   "mark":{"type":"rule","color":"#a7a9ab","strokeWidth":4},
   "encoding":{"x":{"field":"year","type":"quantitative","axis":null},"y":{"datum":0.705,"type":"quantitative"},"y2":{"datum":-1.0}}},
  {"data":{"values":[{"part":"divider"}]},
   "mark":{"type":"rect","fill":"#808080"},
   "encoding":{"x":{"datum":1797.5,"type":"quantitative","axis":null},"x2":{"datum":1852},"y":{"datum":-1.0,"type":"quantitative"},"y2":{"datum":-1.09}}},
  {"data":{"values":[{"part":"divider top"}]},
   "mark":{"type":"rule","color":"#3f3f3f","strokeWidth":1.8},
   "encoding":{"y":{"datum":-1.0,"type":"quantitative"}}},
  {"data":{"values":[{"part":"divider bottom"}]},
   "mark":{"type":"rule","color":"#1a1a1a","strokeWidth":1.5},
   "encoding":{"y":{"datum":-1.09,"type":"quantitative"}}},
  {"data":{"name":"sh"},
   "mark":{"type":"line","strokeWidth":3},
   "encoding":{
    "x":{"field":"year","type":"quantitative","scale":{"domain":[1797.5,1852],"nice":false,"zero":false},"axis":null},
    "y":{"field":"anomaly","type":"quantitative","scale":{"domain":[-1.098,1.0],"nice":false,"zero":false},
     "axis":{"values":[-1,-0.5,0,0.5],"grid":true,"gridColor":{"condition":{"test":"abs(datum.value) < 0.001","value":"#111111"},"value":"#4d4d4f"},"gridWidth":1.3,"domain":false,"ticks":false,"tickSize":0,"labelAlign":"left","labelBaseline":"alphabetic","labelPadding":-1,"labelOffset":-3.5,"labelFontSize":16,"labelOverlap":false,"labelExpr":"replace(format(datum.value, '.1f'), '−', '-')","title":null}},
    "color":{"field":"series","type":"nominal","scale":{"domain":["South America","Australasia","Antarctica"],"range":["#8f7677","#f58220","#0ea2dc"]},
     "legend":{"orient":"none","legendX":32,"legendY":124.5,"columns":2,"direction":"horizontal","title":null,"symbolType":"stroke","symbolSize":441,"symbolStrokeWidth":3.5,"labelFontSize":16,"labelOffset":3,"labelColor":"#231f20","clipHeight":18,"rowPadding":0,"columnPadding":-7,"padding":0}}
   }},
  {"data":{"values":[{"label":"Southern Hemisphere Continents"}]},
   "mark":{"type":"text","font":"Open Sans","fontWeight":"bold","fontSize":16.5,"align":"center","baseline":"alphabetic","color":"#231f20"},
   "encoding":{"x":{"datum":1825,"type":"quantitative","axis":null},"y":{"datum":0.83,"type":"quantitative"},"text":{"field":"label"}}}
 ]
},
{
 "width":680,"height":157,
 "layer":[
  {"data":{"name":"eruptions"},"transform":[{"filter":"datum.year < 1812"}],
   "mark":{"type":"rule","color":"#a7a9ab","strokeWidth":4},
   "encoding":{"x":{"field":"year","type":"quantitative"},"y":{"datum":0.5,"type":"quantitative"},"y2":{"datum":-0.5}}},
  {"data":{"name":"eruptions"},"transform":[{"filter":"datum.year > 1812"}],
   "mark":{"type":"rule","color":"#a7a9ab","strokeWidth":4},
   "encoding":{"x":{"field":"year","type":"quantitative"},"y":{"datum":0.5,"type":"quantitative"},"y2":{"datum":-1.0}}},
  {"data":{"name":"gl"},
   "mark":{"type":"line","strokeWidth":3},
   "encoding":{
    "x":{"field":"year","type":"quantitative","scale":{"domain":[1797.5,1852],"nice":false,"zero":false},
     "axis":{"values":[1800,1810,1820,1830,1840,1850],"format":"d","offset":-33,"domainColor":"#000000","domainWidth":1.5,"tickColor":"#000000","tickWidth":1.2,"tickSize":9,"labelFontSize":16,"labelPadding":0,"labelFlush":false,"labelOverlap":false,"grid":false,"title":null}},
    "y":{"field":"anomaly","type":"quantitative","scale":{"domain":[-1.387,0.5],"nice":false,"zero":false},
     "axis":{"values":[-1,-0.5,0],"grid":true,"gridColor":{"condition":{"test":"abs(datum.value) < 0.001","value":"#111111"},"value":"#4d4d4f"},"gridWidth":1.3,"domain":false,"ticks":false,"tickSize":0,"labelAlign":"left","labelBaseline":"alphabetic","labelPadding":-1,"labelOffset":-3.5,"labelFontSize":16,"labelOverlap":false,"labelExpr":"replace(format(datum.value, '.1f'), '−', '-')","title":null}},
    "color":{"field":"series","type":"nominal","scale":{"domain":["Global","30° N – 90° N","30° S – 30° N","90° S – 30° S"],"range":["#6f6f70","#8cc63e","#f58220","#0ea2dc"]},
     "legend":{"values":["30° N – 90° N","90° S – 30° S","30° S – 30° N"],"orient":"none","legendX":32,"legendY":83,"columns":2,"direction":"horizontal","title":null,"symbolType":"stroke","symbolSize":441,"symbolStrokeWidth":3.5,"labelFontSize":16,"labelOffset":3,"labelColor":"#231f20","clipHeight":18,"rowPadding":0,"columnPadding":2,"padding":0}}
   }},
  {"data":{"values":[{"label":"Global"}]},
   "mark":{"type":"text","font":"Open Sans","fontWeight":"bold","fontSize":16.5,"align":"center","baseline":"alphabetic","color":"#231f20"},
   "encoding":{"x":{"datum":1825,"type":"quantitative"},"y":{"datum":0.315,"type":"quantitative"},"text":{"field":"label"}}}
 ]
}
]
}
